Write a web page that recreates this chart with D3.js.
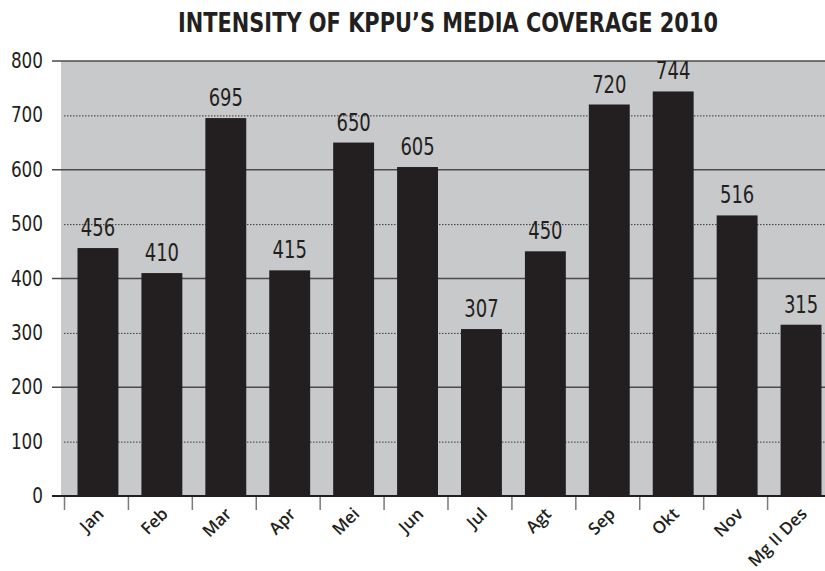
<!DOCTYPE html>
<html>
<head>
<meta charset="utf-8">
<script src="https://cdn.jsdelivr.net/npm/d3@7"></script>
<style>
  html, body { margin: 0; padding: 0; background: #ffffff; }
  svg { display: block; }
</style>
</head>
<body>
<div id="chart"></div>
<script>
const titleText = "INTENSITY OF KPPU\u2019S MEDIA COVERAGE 2010";
const categories = ["Jan", "Feb", "Mar", "Apr", "Mei", "Jun", "Jul", "Agt", "Sep", "Okt", "Nov", "Mg II Des"];
const values = [456, 410, 695, 415, 650, 605, 307, 450, 720, 744, 516, 315];
const yTicks = [0, 100, 200, 300, 400, 500, 600, 700, 800];
const solidTicks = [0, 200, 400, 600, 800];
const dottedTicks = [100, 300, 500, 700];

const W = 825, H = 571;
const ink = "#231f20";
const narrow = "'Liberation Sans Narrow', 'Arial Narrow', 'DejaVu Sans Condensed', sans-serif";

const svg = d3.select("#chart").append("svg")
  .attr("width", W).attr("height", H);

const x = d3.scaleBand()
  .domain(categories)
  .range([66, 833])
  .paddingInner(0.36)
  .paddingOuter(0.18);

const y = d3.scaleLinear().domain([0, 800]).range([496, 61]);

// plot background
svg.append("rect")
  .attr("x", 61).attr("y", y(800))
  .attr("width", W - 61).attr("height", y(0) - y(800))
  .attr("fill", "#c8c9cb");

// dotted gridlines
svg.append("g").selectAll("line").data(dottedTicks).join("line")
  .attr("x1", 64).attr("x2", W)
  .attr("y1", d => y(d) + 0.5).attr("y2", d => y(d) + 0.5)
  .attr("stroke", "#3a3a3a").attr("stroke-width", 1)
  .attr("stroke-dasharray", "1.5,1.5");

// solid gridlines
svg.append("g").selectAll("line").data(solidTicks.filter(d => d > 0)).join("line")
  .attr("x1", 52).attr("x2", W)
  .attr("y1", d => y(d)).attr("y2", d => y(d))
  .attr("stroke", "#4a4a4a").attr("stroke-width", 1.5);

// bars
svg.append("g").selectAll("rect").data(values).join("rect")
  .attr("x", (d, i) => x(categories[i]))
  .attr("y", d => y(d))
  .attr("width", x.bandwidth())
  .attr("height", d => y(0) - y(d))
  .attr("fill", ink);

// value labels (horizontally condensed)
svg.append("g").selectAll("text").data(values).join("text")
  .attr("transform", (d, i) => `translate(${x(categories[i]) + x.bandwidth() / 2},${y(d) - 12}) scale(0.8,1)`)
  .attr("text-anchor", "middle")
  .attr("font-family", narrow)
  .attr("font-size", 25)
  .attr("fill", ink)
  .text(d => d);

// x axis line
svg.append("line")
  .attr("x1", 52).attr("x2", W)
  .attr("y1", y(0)).attr("y2", y(0))
  .attr("stroke", ink).attr("stroke-width", 1.8);

// x ticks at band boundaries
const step = x.step();
const gap = step * x.paddingInner();
svg.append("g").selectAll("line").data(categories).join("line")
  .attr("x1", d => x(d) - gap / 2 - 1.5)
  .attr("x2", d => x(d) - gap / 2 - 1.5)
  .attr("y1", y(0) + 1).attr("y2", y(0) + 14)
  .attr("stroke", "#7a7a7a").attr("stroke-width", 1.5);

// x labels rotated
svg.append("g").selectAll("text").data(categories).join("text")
  .attr("transform", d => `translate(${x(d) + x.bandwidth() / 2 + 7},${y(0) + 19}) rotate(-45)`)
  .attr("text-anchor", "end")
  .attr("font-family", "'Open Sans', 'Noto Sans', sans-serif")
  .attr("font-weight", 600)
  .attr("font-size", 17)
  .attr("fill", ink)
  .text(d => d);

// y labels
svg.append("g").selectAll("text").data(yTicks).join("text")
  .attr("transform", d => `translate(43,${y(d)}) scale(0.85,1)`)
  .attr("dy", "0.32em")
  .attr("text-anchor", "end")
  .attr("font-family", narrow)
  .attr("font-size", 22)
  .attr("fill", ink)
  .text(d => d);

// title
svg.append("text")
  .attr("x", 448).attr("y", 32)
  .attr("text-anchor", "middle")
  .attr("font-family", narrow)
  .attr("font-weight", "bold")
  .attr("font-size", 26)
  .attr("textLength", 540)
  .attr("lengthAdjust", "spacingAndGlyphs")
  .attr("fill", ink)
  .text(titleText);
</script>
</body>
</html>
